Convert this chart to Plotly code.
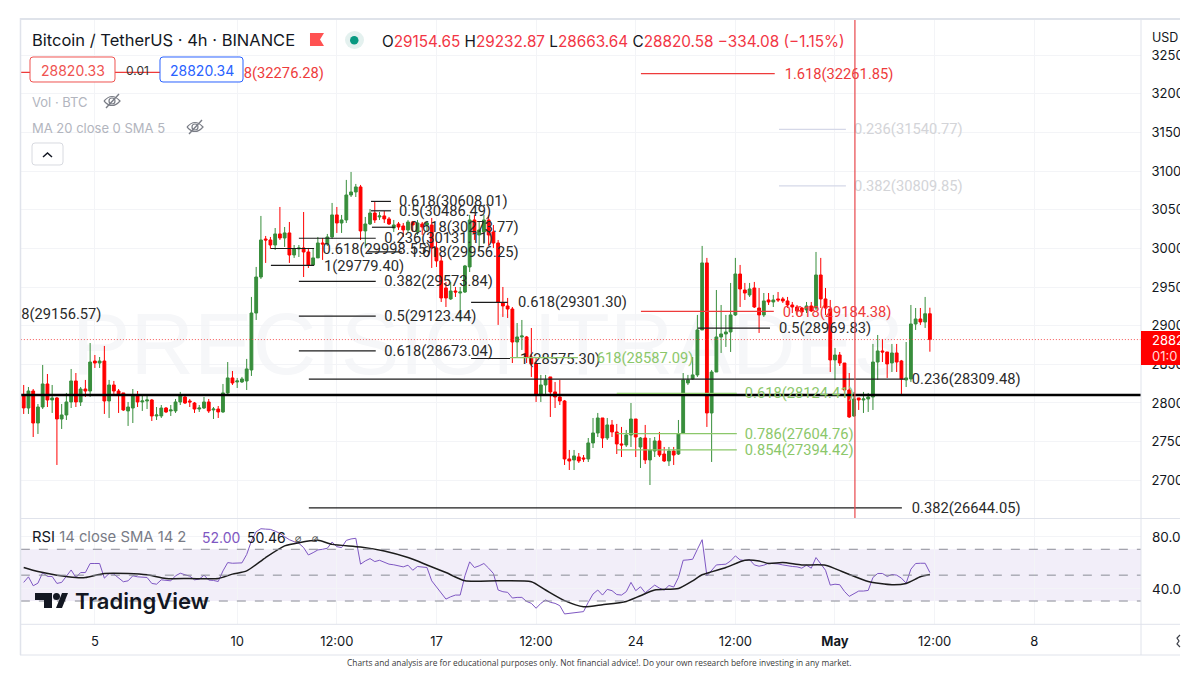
"""
BTCUSDT 4h TradingView screenshot rebuilt with Plotly
"""
import pandas as pd
import plotly.graph_objects as go

WIDTH = 1200
HEIGHT = 675
START = pd.Timestamp('2023-04-02 12:00')

opens = [
    28104, 27935, 28155, 27741, 27948, 28246, 28039, 28065, 27793, 27845,
    28013, 28285, 28013, 28181, 28155, 28543, 28517, 28543, 28026, 28233,
    28155, 28130, 27897, 27935, 28091, 28013, 28026, 28039, 27832, 27832,
    27935, 27897, 27897, 28013, 28078, 28026, 28000, 27922, 27935, 28013,
    27910, 27922, 27884, 28130, 28324, 28272, 28272, 28285, 28427, 29164,
    29630, 30122, 30109, 30044, 30187, 30135, 30200, 29915, 29993, 30006,
    29954, 29786, 29877, 30070, 30057, 30148, 30433, 30329, 30368, 30691,
    30730, 30795, 30226, 30316, 30458, 30407, 30420, 30381, 30264, 30316,
    30290, 30239, 30342, 30213, 30316, 30303, 30303, 30006, 29838, 29488,
    29346, 29449, 29423, 29436, 29760, 30368, 30174, 30213, 30368, 30213,
    30070, 29294, 29255, 29216, 28789, 28854, 28854, 28595, 28505, 28104,
    28233, 28337, 28143, 28078, 28026, 27276, 27263, 27302, 27289, 27276,
    27483, 27612, 27806, 27547, 27716, 27625, 27470, 27457, 27586, 27793,
    27431, 27547, 27263, 27379, 27509, 27340, 27250, 27379, 27340, 27612,
    28259, 28311, 28363, 28945, 29812, 27871, 28401, 28854, 28893, 28919,
    29139, 29669, 29462, 29398, 29488, 29229, 29139, 29333, 29307, 29346,
    29346, 29320, 29268, 29242, 29229, 29204, 29255, 29229, 29656, 29346,
    29216, 28557, 28621, 28517, 28168, 27832, 28065, 28039, 28052, 28078,
    28530, 28673, 28660, 28518, 28647, 28544, 28298, 28311, 29022, 29087,
    29048, 29154.65,
]
highs = [
    28233, 28207, 28181, 27987, 28492, 28375, 28233, 28078, 27987, 28130,
    28440, 28388, 28207, 28298, 28776, 28621, 28595, 28738, 28298, 28285,
    28181, 28130, 28013, 28181, 28155, 28091, 28091, 28052, 27948, 27974,
    27948, 27974, 28052, 28143, 28091, 28052, 28013, 27974, 28078, 28052,
    27948, 27961, 28246, 28530, 28414, 28324, 28337, 28570, 29372, 29760,
    30420, 30161, 30148, 30264, 30536, 30277, 30342, 30044, 30044, 30471,
    30006, 30006, 30148, 30135, 30187, 30588, 30536, 30433, 30886, 30989,
    30834, 30821, 30407, 30510, 30600, 30471, 30484, 30407, 30368, 30342,
    30329, 30368, 30355, 30368, 30342, 30355, 30394, 30083, 29915, 29566,
    29566, 29501, 29501, 29786, 30433, 30433, 30342, 30433, 30433, 30303,
    30109, 29501, 29359, 29242, 29035, 29074, 28867, 28970, 28595, 28363,
    28363, 28337, 28272, 28298, 28039, 27392, 27392, 27353, 27327, 27547,
    27806, 27871, 27806, 27806, 27780, 27729, 27690, 27651, 28000, 27793,
    27560, 27716, 27547, 27560, 27625, 27431, 27431, 27431, 27780, 28388,
    28363, 28595, 29139, 30032, 29877, 28427, 29462, 29268, 29139, 29553,
    29877, 29786, 29553, 29553, 29566, 29488, 29423, 29423, 29398, 29436,
    29372, 29372, 29307, 29268, 29242, 29307, 29307, 29954, 29877, 29488,
    29333, 28712, 28660, 28517, 28388, 28143, 28065, 28143, 28130, 28764,
    28880, 28828, 28660, 28764, 28764, 28557, 28789, 29268, 29229, 29229,
    29372, 29232.87,
]
lows = [
    27858, 27858, 27560, 27599, 27922, 27948, 27871, 27198, 27664, 27780,
    27935, 27948, 27961, 28078, 28078, 28453, 28453, 27858, 27806, 28117,
    27871, 27897, 27703, 27741, 27948, 27897, 27922, 27767, 27780, 27806,
    27871, 27832, 27871, 27974, 27987, 27948, 27871, 27884, 27922, 27871,
    27793, 27806, 27871, 28104, 28233, 28194, 28259, 28168, 28350, 29074,
    29605, 29812, 29993, 29980, 30109, 30019, 29812, 29877, 29889, 29630,
    29747, 29786, 29877, 29851, 30032, 30122, 30200, 30200, 30329, 30665,
    30665, 30109, 30006, 30303, 30329, 30368, 30329, 30303, 30213, 30239,
    30148, 30200, 30213, 30174, 30174, 30213, 29747, 29760, 29307, 29242,
    29333, 29372, 29048, 29423, 29695, 30109, 29980, 30057, 30044, 30006,
    29010, 29113, 29100, 28517, 28582, 28686, 28517, 28337, 28013, 28013,
    28104, 27819, 27935, 27974, 27198, 27133, 27133, 27224, 27237, 27237,
    27418, 27560, 27418, 27521, 27560, 27340, 27301, 27431, 27431, 27301,
    27159, 27211, 26939, 27301, 27301, 27237, 27185, 27198, 27327, 27599,
    28233, 28298, 28337, 28945, 27690, 27237, 28401, 28647, 28725, 28660,
    29126, 29242, 29333, 29372, 29229, 28906, 29113, 29268, 29242, 29307,
    29294, 29229, 29164, 29139, 29126, 29164, 29177, 29204, 29229, 29139,
    28401, 28298, 28479, 28078, 27806, 27819, 27910, 27871, 27884, 27910,
    28298, 28530, 28324, 28401, 28401, 28104, 28207, 28272, 28945, 29010,
    28971, 28663.64,
]
closes = [
    27936, 28155, 27741, 27948, 28246, 28039, 28065, 27793, 27845, 28013,
    28285, 28013, 28181, 28155, 28530, 28517, 28543, 28026, 28233, 28155,
    28117, 27910, 27948, 28104, 28013, 28026, 28039, 27832, 27845, 27935,
    27884, 27910, 28013, 28091, 28000, 28013, 27922, 27935, 28013, 27897,
    27922, 27884, 28130, 28324, 28259, 28285, 28311, 28440, 29164, 29630,
    30109, 30109, 30044, 30187, 30135, 30200, 29915, 29993, 30006, 29954,
    29786, 29877, 30070, 30057, 30148, 30433, 30329, 30368, 30691, 30730,
    30795, 30226, 30316, 30458, 30368, 30420, 30381, 30316, 30303, 30277,
    30239, 30342, 30303, 30329, 30277, 30329, 30006, 29838, 29359, 29359,
    29449, 29436, 29436, 29773, 30368, 30200, 30239, 30368, 30174, 30070,
    29307, 29255, 29216, 28789, 28854, 28867, 28595, 28505, 28104, 28233,
    28298, 28143, 28078, 28026, 27276, 27250, 27315, 27250, 27276, 27483,
    27612, 27806, 27547, 27716, 27625, 27470, 27457, 27586, 27793, 27560,
    27547, 27263, 27392, 27509, 27327, 27250, 27379, 27327, 27599, 28298,
    28298, 28363, 28945, 29812, 27871, 28401, 28854, 28893, 28919, 29139,
    29669, 29475, 29423, 29475, 29242, 29139, 29320, 29307, 29333, 29333,
    29320, 29268, 29242, 29190, 29177, 29255, 29190, 29656, 29346, 29229,
    28557, 28621, 28517, 28168, 27819, 28052, 28039, 28052, 28078, 28530,
    28673, 28660, 28505, 28647, 28530, 28311, 28324, 29022, 29087, 29048,
    29154.65, 28820.58,
]
rsi_values = [
    44.4, 48.7, 41.8, 43.8, 52.0, 49.0, 49.0, 43.6, 44.4, 49.5,
    54.0, 48.2, 52.0, 52.0, 59.0, 59.0, 59.0, 47.7, 51.3, 50.8,
    48.0, 44.9, 45.6, 49.5, 48.7, 48.2, 48.2, 43.6, 43.0, 46.4,
    46.2, 45.6, 49.5, 51.5, 50.3, 49.2, 46.4, 46.9, 50.0, 46.2,
    45.9, 45.1, 53.3, 59.7, 59.2, 59.2, 59.5, 66.0, 76.4, 83.6,
    85.9, 85.6, 85.4, 84.0, 82.3, 79.7, 77.4, 75.9, 74.6, 71.3,
    65.6, 67.4, 69.5, 70.0, 70.8, 75.6, 72.0, 71.3, 76.9, 78.0,
    78.5, 58.5, 61.0, 62.8, 60.5, 61.5, 59.7, 58.5, 58.0, 57.2,
    56.4, 57.7, 53.8, 56.7, 56.4, 55.9, 45.6, 41.0, 36.7, 31.5,
    33.3, 34.6, 34.6, 49.5, 60.3, 55.9, 57.2, 59.0, 55.4, 51.3,
    38.5, 37.2, 36.7, 32.3, 32.8, 32.8, 29.7, 28.2, 24.4, 28.2,
    30.8, 29.0, 28.2, 26.4, 20.0, 20.5, 21.3, 21.5, 21.8, 29.0,
    35.4, 38.5, 34.6, 39.0, 38.0, 35.0, 34.6, 37.2, 44.4, 38.0,
    41.0, 36.4, 39.2, 42.3, 40.0, 38.5, 42.0, 40.8, 48.2, 61.5,
    61.8, 62.3, 70.0, 77.4, 49.5, 53.8, 57.9, 58.2, 58.5, 61.0,
    64.9, 61.8, 61.3, 62.0, 57.9, 56.9, 57.7, 59.2, 59.2, 58.7,
    57.9, 57.2, 56.7, 56.4, 55.4, 57.7, 55.4, 63.6, 58.5, 53.8,
    42.3, 43.0, 42.6, 37.4, 33.6, 35.4, 37.7, 37.7, 38.2, 48.2,
    51.3, 51.3, 49.0, 50.5, 50.0, 47.7, 43.8, 54.6, 59.0, 59.2,
    59.2, 52.0,
]
# RSI moving average, read at its bends only
rsi_ma_bars = [
    0, 3, 7, 11, 13, 17, 22, 26, 30, 35, 41, 44, 47, 51, 55, 58, 62, 65, 71, 76, 81, 85,
    89, 93, 100, 107, 110, 114, 118, 122, 127, 130, 133, 138, 141, 143, 148, 152, 155,
    157, 160, 164, 169, 173, 178, 183, 186, 189, 191,
]
rsi_ma_values = [
    55.9, 52.8, 50.0, 48.2, 48.2, 51.3, 51.3, 50.3, 47.4, 47.4, 47.4, 50.8, 53.3, 63.6,
    72.6, 75.1, 76.9, 73.8, 71.8, 68.7, 63.6, 57.9, 52.0, 45.6, 45.6, 44.9, 38.5, 30.3,
    25.6, 27.2, 29.7, 34.1, 38.5, 39.7, 45.6, 50.3, 55.9, 61.5, 61.0, 59.0, 59.7, 57.9,
    57.7, 52.0, 45.1, 42.6, 43.6, 48.7, 50.46,
]

# fib levels: label, price, line start/end bar, label bar
black_labels = ['0.618(30608.01)', '0.5(30486.49)', '0.618(30273.77)', '0.236(30131.11)',
                '0.618(29998.55)', '1.618(29956.25)', '1(29779.40)', '0.382(29573.84)',
                '0.5(29123.44)', '0.618(28673.04)', '0.618(29301.30)', '1(28575.30)',
                '0.236(28309.48)', '0.5(28969.83)', '0.382(26644.05)', '8(29156.57)']
black_prices = [30608.01, 30486.49, 30273.77, 30131.11, 29998.55, 29956.25, 29779.40, 29573.84,
                29123.44, 28673.04, 29301.30, 28575.30, 28309.48, 28969.83, 26644.05, 29156.57]
black_starts = [73.2, 73.2, 73.4, 58, 52.1, 72.6, 52.1, 58, 58, 58, 94.3, 94.3, 60.1, 142.1, 60.1, None]
black_ends = [77.4, 77.4, 78.2, 74.2, 61.2, 79.7, 61.2, 74.2, 74.2, 74.2, 102, 102.5, 185.7, 157.3, 185.1, None]
black_text_bars = [79.1, 79.1, 81.4, 76, 63, 81.4, 63.3, 76, 76, 76, 104.2, 104.6, 187.2, 159.2, 187.2, -0.5]

green_labels = ['618(28587.09)', '0.618(28124.41)', '0.786(27604.76)', '0.854(27394.42)']
green_prices = [28587.09, 28124.41, 27604.76, 27394.42]
green_starts = [102.5, 125, 125, 125]
green_ends = [116.8, 150.3, 150.3, 150.3]
green_text_bars = [120.8, 152, 152, 152]

red_labels = ['1.618(32261.85)', '0.618(29184.38)', '8(32276.28)']
red_prices = [32261.85, 29184.38, 32276.28]
red_starts = [130.1, 130.1, -0.6]
red_ends = [158.3, 158.1, 46]
red_text_bars = [160.4, 160, 46.4]

gray_labels = ['0.236(31540.77)', '0.382(30809.85)']
gray_prices = [31540.77, 30809.85]
gray_starts = [159.2, 159.2]
gray_ends = [173.3, 173.3]
gray_text_bars = [175, 175]

support_price = 28103
last_close = 28820.58
crosshair_bar = 175.2

price_ticks = [32500, 32000, 31500, 31000, 30500, 30000, 29500, 29000, 28500, 28000, 27500, 27000]
price_tick_text = ['3250', '3200', '3150', '3100', '3050', '3000', '2950', '2900', '2850', '2800', '2750', '2700']
time_ticks = ['2023-04-05', '2023-04-10', '2023-04-13 12:00', '2023-04-17', '2023-04-20 12:00',
              '2023-04-24', '2023-04-27 12:00', '2023-05-01', '2023-05-04 12:00', '2023-05-08']
time_tick_text = ['5', '10', '12:00', '17', '12:00', '24', '12:00', '<b>May</b>', '12:00', '8']

GREEN = '#388e3c'
RED = '#ff0000'
FIB_GREEN = '#8bc76a'
INK = '#131722'
GRID = '#f3f4f7'
BORDER = '#e0e3eb'
PURPLE = '#7e57c2'
FONT = 'Inter'
LABEL_FONT = 'Roboto'
LABEL_DROP = 18  # level text sits a touch under its line, in price units


def bar_time(i):
    """Time of a (possibly fractional) 4h bar number."""
    return START + pd.Timedelta(hours=4 * i)


def px(x):
    return x / WIDTH


def py(y):
    return 1 - y / HEIGHT


def path_of(points, close=True):
    """SVG path in paper coordinates from screen pixels."""
    parts = [f"{'M' if n == 0 else 'L'}{px(x):.5f},{py(y):.5f}" for n, (x, y) in enumerate(points)]
    return ' '.join(parts) + (' Z' if close else '')


def round_rect(x0, y0, x1, y1, r):
    return (f'M{px(x0 + r):.5f},{py(y0):.5f} L{px(x1 - r):.5f},{py(y0):.5f} '
            f'Q{px(x1):.5f},{py(y0):.5f} {px(x1):.5f},{py(y0 + r):.5f} '
            f'L{px(x1):.5f},{py(y1 - r):.5f} Q{px(x1):.5f},{py(y1):.5f} {px(x1 - r):.5f},{py(y1):.5f} '
            f'L{px(x0 + r):.5f},{py(y1):.5f} Q{px(x0):.5f},{py(y1):.5f} {px(x0):.5f},{py(y1 - r):.5f} '
            f'L{px(x0):.5f},{py(y0 + r):.5f} Q{px(x0):.5f},{py(y0):.5f} {px(x0 + r):.5f},{py(y0):.5f} Z')


def paper_shape(**kwargs):
    return dict(xref='paper', yref='paper', **kwargs)


def add_levels(fig, labels, prices, starts, ends, text_bars, color, text_color, size=14.7):
    """Fib level segments plus their text, above the candles like the original."""
    xs, ys = [], []
    for price, a, b in zip(prices, starts, ends):
        if a is None:
            continue
        xs += [bar_time(a), bar_time(b), None]
        ys += [price, price, None]
    fig.add_trace(go.Scatter(x=xs, y=ys, mode='lines', line=dict(color=color, width=1.2),
                             hoverinfo='skip', showlegend=False, xaxis='x', yaxis='y'))
    fig.add_trace(go.Scatter(x=[bar_time(b) for b in text_bars], y=[p - LABEL_DROP for p in prices],
                             mode='text', text=labels, textposition='middle right', cliponaxis=False,
                             textfont=dict(family=LABEL_FONT, size=size, color=text_color),
                             hoverinfo='skip', showlegend=False, xaxis='x', yaxis='y'))


def note(x, y, text, size=13, color=INK, anchor='left', family=FONT, weight=None, **kwargs):
    if anchor == 'left':
        x -= 1
    font = dict(family=family, size=size, color=color)
    if weight:
        font['weight'] = weight
    return dict(xref='paper', yref='paper', x=px(x), y=py(y), text=text, showarrow=False,
                xanchor=anchor, yanchor='middle', font=font, borderpad=0, **kwargs)


def eye_icon(cx, cy, color='#7a7d86'):
    shapes = []
    shapes.append(paper_shape(type='path', line=dict(color=color, width=1.2),
                              path=(f'M{px(cx - 8):.5f},{py(cy):.5f} Q{px(cx):.5f},{py(cy - 9):.5f} '
                                    f'{px(cx + 8):.5f},{py(cy)} Q{px(cx):.5f},{py(cy + 9):.5f} '
                                    f'{px(cx - 8):.5f},{py(cy):.5f}')))
    shapes.append(paper_shape(type='circle', x0=px(cx - 3), x1=px(cx + 3), y0=py(cy + 3), y1=py(cy - 3),
                              line=dict(color=color, width=1.2)))
    shapes.append(paper_shape(type='line', x0=px(cx - 6), x1=px(cx + 7), y0=py(cy + 7), y1=py(cy - 7),
                              line=dict(color=color, width=1.4)))
    return shapes


times = [bar_time(i) for i in range(len(closes))]

fig = go.Figure()

fig.add_trace(go.Candlestick(
    x=times, open=opens, high=highs, low=lows, close=closes,
    increasing=dict(line=dict(color=GREEN, width=1), fillcolor=GREEN),
    decreasing=dict(line=dict(color=RED, width=1), fillcolor=RED),
    whiskerwidth=0, hoverinfo='skip', showlegend=False, xaxis='x', yaxis='y'))

fig.add_trace(go.Scatter(x=[bar_time(-0.6), bar_time(235.5)], y=[support_price, support_price], mode='lines',
                         line=dict(color='#000000', width=2.6), hoverinfo='skip', showlegend=False,
                         xaxis='x', yaxis='y'))
fig.add_trace(go.Scatter(x=[bar_time(-0.6), bar_time(235.5)], y=[last_close, last_close], mode='lines',
                         line=dict(color='rgba(244,60,60,0.85)', width=1, dash='1px,2px'), hoverinfo='skip',
                         showlegend=False, xaxis='x', yaxis='y'))

add_levels(fig, black_labels, black_prices, black_starts, black_ends, black_text_bars, '#1c1c1c', '#2a2a2a')
add_levels(fig, green_labels, green_prices, green_starts, green_ends, green_text_bars, FIB_GREEN, FIB_GREEN)
add_levels(fig, red_labels, red_prices, red_starts, red_ends, red_text_bars, '#ee3b3b', '#ee3b3b')
add_levels(fig, gray_labels, gray_prices, gray_starts, gray_ends, gray_text_bars, '#d5d8e8', '#d3d4d8')

fig.add_trace(go.Scatter(x=times, y=rsi_values, mode='lines', line=dict(color=PURPLE, width=1),
                         hoverinfo='skip', showlegend=False, xaxis='x', yaxis='y2'))
fig.add_trace(go.Scatter(x=[bar_time(b) for b in rsi_ma_bars], y=rsi_ma_values, mode='lines',
                         line=dict(color='#1c1c1c', width=1.5, shape='spline', smoothing=0.6),
                         hoverinfo='skip', showlegend=False, xaxis='x', yaxis='y2'))

shapes = [
    # watermark sits under the candles
    dict(type='rect', xref='paper', yref='paper', layer='below', x0=px(140), x1=px(835), y0=py(372), y1=py(298),
         line=dict(width=0), fillcolor='rgba(0,0,0,0)',
         label=dict(text='PRECISIONTRADE3', textposition='middle center',
                    font=dict(family='Liberation Sans', size=88, color='#f6f7f9'))),
    dict(type='rect', xref='x', yref='y2', layer='below', x0=bar_time(-0.6), x1=bar_time(235.5), y0=30, y1=70,
         line=dict(width=0), fillcolor='rgba(126,87,194,0.10)'),
]
for level in [70, 50, 30]:
    shapes.append(dict(type='line', xref='x', yref='y2', x0=bar_time(-0.6), x1=bar_time(235.5), y0=level, y1=level,
                       line=dict(color='#8a8c96', width=1, dash='dash')))
shapes.append(dict(type='line', xref='x', yref='paper', x0=bar_time(crosshair_bar), x1=bar_time(crosshair_bar),
                   y0=py(518), y1=py(20), line=dict(color='#e8474c', width=1.2)))
# chart frame
shapes += [
    paper_shape(type='rect', x0=px(20), x1=px(1180), y0=py(20), y1=py(18), line=dict(width=0), fillcolor='#dfe3ea'),
    paper_shape(type='line', x0=px(20.5), x1=px(20.5), y0=py(655), y1=py(18), line=dict(color=BORDER, width=1.5)),
    paper_shape(type='line', x0=px(1141), x1=px(1141), y0=py(655), y1=py(20), line=dict(color=BORDER, width=1)),
    paper_shape(type='line', x0=px(20), x1=px(1180), y0=py(518.5), y1=py(518.5), line=dict(color=BORDER, width=1)),
    paper_shape(type='line', x0=px(20), x1=px(1180), y0=py(624.3), y1=py(624.3), line=dict(color=BORDER, width=1)),
    paper_shape(type='line', x0=px(20), x1=px(1180), y0=py(655), y1=py(655), line=dict(color=BORDER, width=1)),
]
# last price tag
shapes.append(paper_shape(type='rect', x0=px(1141), x1=px(1180), y0=py(365), y1=py(331), line=dict(width=0),
                          fillcolor=RED))
# screenshot is cut off here
shapes.append(paper_shape(type='rect', x0=px(1180), x1=px(1200), y0=0, y1=1, line=dict(width=0), fillcolor='#ffffff'))
shapes.append(paper_shape(type='path', line=dict(color='#3c3f48', width=1.2),
                          path=path_of([(1180, 635), (1177, 638), (1179, 641), (1177, 644), (1180, 647)], close=False)))
# header flag and market dot
shapes.append(paper_shape(type='path', line=dict(width=0), fillcolor='#ff5252',
                          path=path_of([(310, 33), (324, 33), (320, 39.5), (324, 46), (310, 46)])))
shapes.append(paper_shape(type='circle', x0=px(345), x1=px(364), y0=py(49), y1=py(31), line=dict(width=0),
                          fillcolor='#e4f1ef'))
shapes.append(paper_shape(type='circle', x0=px(350), x1=px(358.5), y0=py(44.5), y1=py(36), line=dict(width=0),
                          fillcolor='#089981'))
# bid/ask badges
shapes.append(paper_shape(type='path', path=round_rect(30, 57, 115, 82, 3), fillcolor='#ffffff',
                          line=dict(color='#ef5350', width=1)))
shapes.append(paper_shape(type='path', path=round_rect(160, 57, 243, 82, 3), fillcolor='#ffffff',
                          line=dict(color='#2962ff', width=1)))
shapes += eye_icon(112, 101) + eye_icon(195, 127)
# collapse button
shapes.append(paper_shape(type='path', path=round_rect(32, 143, 63, 165, 3), fillcolor='#ffffff',
                          line=dict(color='#d8dae0', width=1)))
shapes.append(paper_shape(type='path', line=dict(color=INK, width=1.5),
                          path=path_of([(43, 157), (47.5, 153), (52, 157)], close=False)))
# TradingView logo mark
shapes.append(paper_shape(type='path', line=dict(width=0), fillcolor='#131722',
                          path=path_of([(35, 593), (52, 593), (52, 608), (44, 608), (44, 600), (35, 600)])))
shapes.append(paper_shape(type='circle', x0=px(53), x1=px(60), y0=py(600), y1=py(593), line=dict(width=0),
                          fillcolor='#131722'))
shapes.append(paper_shape(type='path', line=dict(width=0), fillcolor='#131722',
                          path=path_of([(56, 608), (62, 593), (68, 593), (62, 608)])))

red = '#f23645'
header = (f'O<span style="color:{red}">29154.65</span> H<span style="color:{red}">29232.87</span> '
          f'L<span style="color:{red}">28663.64</span> C<span style="color:{red}">28820.58</span> '
          f'<span style="color:{red}">−334.08 (−1.15%)</span>')
annotations = [
    note(32, 40, 'Bitcoin / TetherUS · 4h · BINANCE', size=16.5),
    note(382, 41, header, size=15.3),
    note(72.5, 70, '28820.33', size=14, color='#ef5350', anchor='center'),
    note(137, 71, '0.01', size=12, color='#333333', anchor='center'),
    note(201.5, 70, '28820.34', size=14, color='#2962ff', anchor='center'),
    note(32, 102, 'Vol · BTC', size=13, color='#b2b5be'),
    note(32, 128, 'MA 20 close 0 SMA 5', size=13, color='#b2b5be'),
    note(32, 537, f'RSI <span style="color:#787b86">14 close SMA 14 2</span>', size=14.8),
    note(202, 537, '52.00', size=14, color=PURPLE),
    note(247, 537, '50.46', size=14, color=INK),
    note(298, 538, '⌀', size=11, color='#555555', anchor='center', family='DejaVu Sans'),
    note(315, 538, '⌀', size=11, color='#555555', anchor='center', family='DejaVu Sans'),
    note(75, 601, 'TradingView', size=22, color='#131722', weight=600),
    note(1152, 37, 'USD', size=12.5),
    note(1152, 340, '2882', size=13, color='#ffffff'),
    note(1152, 356, '01:0', size=13, color='#ffd9d9'),
    note(1152, 537, '80.0', size=13.5),
    note(1152, 589, '40.0', size=13.5),
    note(599, 662, 'Charts and analysis are for educational purposes only. Not financial advice!. '
                   'Do your own research before investing in any market.',
         size=8.37, color='#3a3a3a', anchor='center', family='Open Sans'),
]

fig.update_layout(
    width=WIDTH, height=HEIGHT, autosize=False,
    margin=dict(l=0, r=0, t=0, b=0),
    paper_bgcolor='#ffffff', plot_bgcolor='#ffffff',
    showlegend=False, dragmode=False, boxgap=0.15,
    shapes=shapes, annotations=annotations,
    xaxis=dict(
        type='date', domain=[px(21), px(1141)], anchor='y2',
        range=[bar_time(-0.57), bar_time(235.5)],
        tickmode='array', tickvals=time_ticks, ticktext=time_tick_text,
        showgrid=True, gridcolor=GRID, gridwidth=1, zeroline=False, showline=False,
        ticks='outside', ticklen=5, tickcolor='rgba(0,0,0,0)',
        tickfont=dict(family=FONT, size=13, color=INK),
        rangeslider=dict(visible=False),
    ),
    yaxis=dict(
        domain=[py(518), py(20)], range=[26512, 32955], anchor='x', side='right', position=px(1141),
        tickmode='array', tickvals=price_ticks, ticktext=price_tick_text,
        showgrid=True, gridcolor=GRID, gridwidth=1, zeroline=False, showline=False,
        ticks='outside', ticklen=7, tickcolor='rgba(0,0,0,0)',
        tickfont=dict(family=FONT, size=13, color=INK),
    ),
    yaxis2=dict(
        domain=[py(624.3), py(518.5)], range=[12.0, 93.8], anchor='x', side='right',
        tickmode='array', tickvals=[80, 40], ticktext=['', ''],
        showgrid=True, gridcolor=GRID, gridwidth=1, zeroline=False, showline=False,
    ),
)

fig.write_html('out.html', post_script="document.body.style.margin='0';", config={'displayModeBar': False})
